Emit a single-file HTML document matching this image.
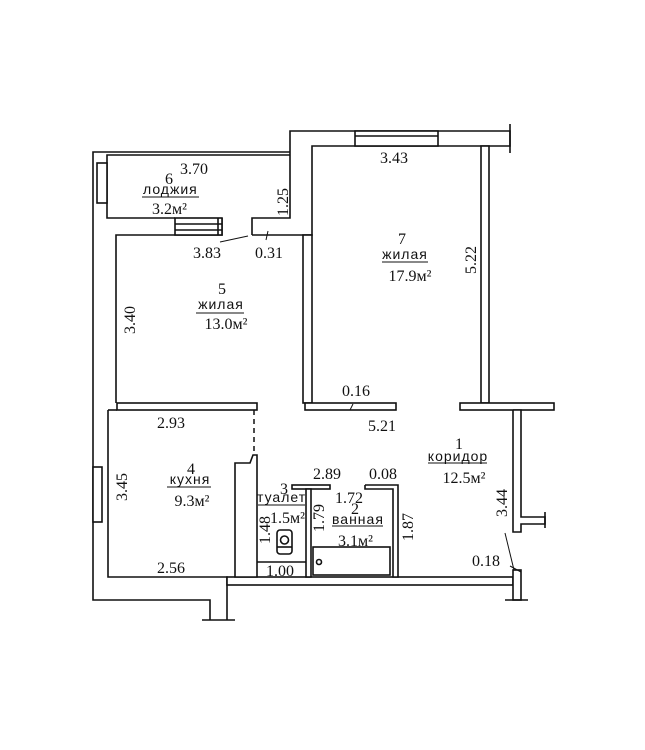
<!DOCTYPE html>
<html><head><meta charset="utf-8"><style>
html,body{margin:0;padding:0;background:#fff;}
svg{display:block}
text{font-family:"Liberation Serif",serif;font-size:16px;fill:#111}
.s{font-family:"Liberation Sans",sans-serif;font-size:14px;letter-spacing:1px}
</style></head><body>
<svg width="645" height="750" viewBox="0 0 645 750" xmlns="http://www.w3.org/2000/svg">
<rect width="645" height="750" fill="#fff"/>
<g fill="#fff" stroke="#111" stroke-width="1.6">
<polyline fill="none" points="290,152 93,152 93,600 210,600 210,620"/>
<polyline fill="none" points="290,155 107,155 107,218 175,218"/>
<polyline fill="none" points="222,218 222,235 116,235 116,403"/>
<rect x="97" y="163" width="10" height="40"/>
<rect x="175" y="218" width="47" height="17"/>
<line x1="175" y1="224" x2="222" y2="224"/>
<line x1="175" y1="230" x2="222" y2="230"/>
<line x1="218" y1="218" x2="218" y2="235"/>
<polyline points="252,235 252,218 290,218 290,131 510,131 510,146 312,146 312,235 252,235"/>
<rect x="355" y="131" width="83" height="15"/>
<line x1="355" y1="136" x2="438" y2="136"/>
<line x1="510" y1="124" x2="510" y2="153"/>
<rect x="303" y="235" width="9" height="168"/>
<rect x="481" y="146" width="8" height="257"/>
<rect x="117" y="403" width="140" height="7"/>
<rect x="305" y="403" width="91" height="7"/>
<rect x="460" y="403" width="94" height="7"/>
<polyline points="513,410 521,410 521,517 545,517 545,524 521,524 521,532 513,532 513,410"/>
<line x1="545" y1="512" x2="545" y2="528"/>
<polyline fill="none" points="108,410 108,577 227,577 227,620"/>
<line x1="108" y1="410" x2="117" y2="410"/>
<rect x="93" y="467" width="9" height="55"/>
<rect x="227" y="577" width="286" height="8"/>
<rect x="513" y="570" width="8" height="30"/>
<line x1="505" y1="600" x2="528" y2="600"/>
<line x1="202" y1="620" x2="235" y2="620"/>
<polygon points="235,577 235,463 250,463 253,455 257,455 257,577"/>
<rect x="292" y="485" width="38" height="4"/>
<rect x="306" y="489" width="5" height="88"/>
<polyline points="365,485 398,485 398,577 393,577 393,489 365,489 365,485"/>
<rect x="313" y="547" width="77" height="28"/>
<circle cx="319" cy="562" r="2.5"/>
<line x1="257" y1="562" x2="306" y2="562"/>
<rect x="277" y="530" width="15" height="24" rx="3"/>
<circle cx="284.5" cy="540" r="4"/>
<line x1="277" y1="547" x2="292" y2="547"/>
</g>
<line x1="254" y1="410" x2="254" y2="455" stroke="#111" stroke-width="1.5" stroke-dasharray="5,4"/>
<g stroke="#111" stroke-width="1" fill="none">
<line x1="220" y1="242" x2="248" y2="236"/>
<line x1="268" y1="231" x2="266" y2="240"/>
<line x1="350" y1="410" x2="353" y2="404"/>
<line x1="505" y1="533" x2="514" y2="570"/>
<line x1="510" y1="566" x2="521" y2="572"/>
<line x1="142" y1="197" x2="199" y2="197"/>
<line x1="196" y1="313" x2="244" y2="313"/>
<line x1="382" y1="262" x2="428" y2="262"/>
<line x1="167" y1="487" x2="211" y2="487"/>
<line x1="258" y1="505" x2="305" y2="505"/>
<line x1="332" y1="526" x2="383" y2="526"/>
<line x1="428" y1="463" x2="487" y2="463"/>
</g>
<text x="180" y="174">3.70</text>
<text x="165" y="184">6</text>
<text x="143" y="194" class="s">лоджия</text>
<text x="152" y="214">3.2м²</text>
<text x="288" y="202" transform="rotate(-90 288 202)" text-anchor="middle">1.25</text>
<text x="380" y="163">3.43</text>
<text x="193" y="258">3.83</text>
<text x="255" y="258">0.31</text>
<text x="402" y="244" text-anchor="middle">7</text>
<text x="405" y="259" class="s" text-anchor="middle">жилая</text>
<text x="410" y="281" text-anchor="middle">17.9м²</text>
<text x="476" y="260" transform="rotate(-90 476 260)" text-anchor="middle">5.22</text>
<text x="222" y="294" text-anchor="middle">5</text>
<text x="221" y="309" class="s" text-anchor="middle">жилая</text>
<text x="226" y="329" text-anchor="middle">13.0м²</text>
<text x="135" y="320" transform="rotate(-90 135 320)" text-anchor="middle">3.40</text>
<text x="342" y="396">0.16</text>
<text x="157" y="428">2.93</text>
<text x="368" y="431">5.21</text>
<text x="459" y="449" text-anchor="middle">1</text>
<text x="458" y="461" class="s" text-anchor="middle">коридор</text>
<text x="464" y="483" text-anchor="middle">12.5м²</text>
<text x="191" y="474" text-anchor="middle">4</text>
<text x="190" y="484" class="s" text-anchor="middle">кухня</text>
<text x="192" y="506" text-anchor="middle">9.3м²</text>
<text x="127" y="487" transform="rotate(-90 127 487)" text-anchor="middle">3.45</text>
<text x="313" y="479">2.89</text>
<text x="369" y="479">0.08</text>
<text x="280" y="494">3</text>
<text x="257" y="502" class="s">туалет</text>
<text x="270" y="523">1.5м²</text>
<text x="335" y="503">1.72</text>
<text x="355" y="514" text-anchor="middle">2</text>
<text x="332" y="524" class="s">ванная</text>
<text x="338" y="546">3.1м²</text>
<text x="324" y="518" transform="rotate(-90 324 518)" text-anchor="middle">1.79</text>
<text x="413" y="527" transform="rotate(-90 413 527)" text-anchor="middle">1.87</text>
<text x="270" y="530" transform="rotate(-90 270 530)" text-anchor="middle">1.48</text>
<text x="266" y="576">1.00</text>
<text x="157" y="573">2.56</text>
<text x="507" y="503" transform="rotate(-90 507 503)" text-anchor="middle">3.44</text>
<text x="472" y="566">0.18</text>
</svg>
</body></html>
